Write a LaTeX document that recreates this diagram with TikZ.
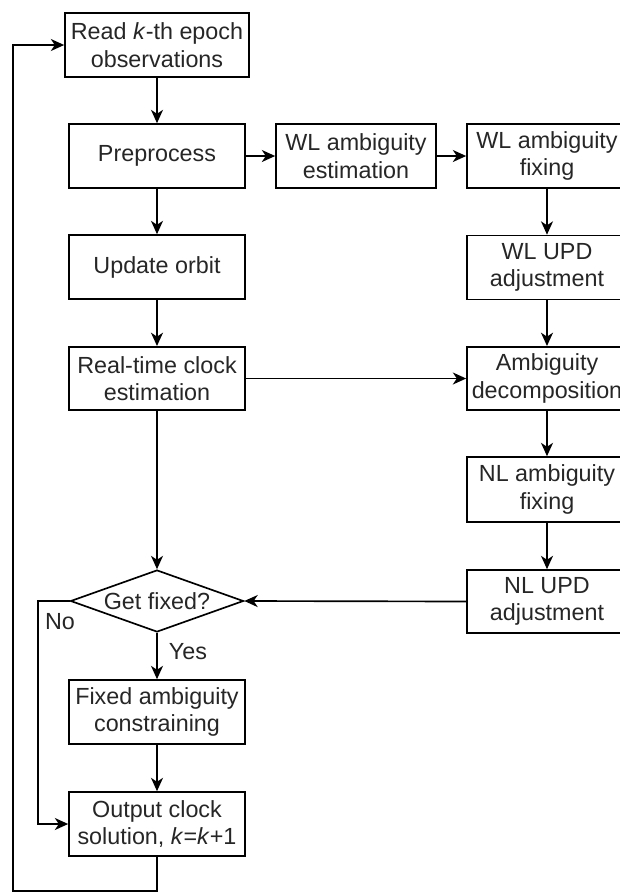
\documentclass[tikz,border=0pt]{standalone}
\usepackage{fontspec}
\setmainfont{Liberation Sans}
\usetikzlibrary{arrows.meta,shapes.geometric}
\begin{document}
\begin{tikzpicture}[x=0.75pt,y=-0.75pt,
  line width=1.25pt,
  every node/.style={font=\fontsize{17.5}{20.5}\selectfont, text=black!85},
  box/.style={draw=black, rectangle, align=center, minimum width=132pt, minimum height=48pt, inner sep=2pt},
  rbox/.style={box, minimum width=120pt},
  dia/.style={draw=black, diamond, aspect=2.79, minimum width=129.75pt, minimum height=46.5pt, inner sep=0pt},
  arr/.style={-{Stealth[length=10pt,width=9pt,inset=3pt]}},
  lbl/.style={inner sep=0pt}]
\useasboundingbox (0,0) rectangle (619,894);
\node[box, minimum width=138pt] (read) at (157,45) {Read \textit{k}-th epoch\\observations};
\node[box] (pre) at (157,156) {Preprocess};
\node[rbox] (wlest) at (356,156) {WL ambiguity\\estimation};
\node[rbox] (wlfix) at (547,156) {WL ambiguity\\fixing};
\node[box] (orbit) at (157,267) {Update orbit};
\node[rbox] (wlupd) at (547,267.5) {WL UPD\\adjustment};
\node[box, minimum height=47.5pt] (rt) at (157,378.5) {Real-time clock\\estimation};
\node[rbox, minimum height=47.5pt] (amb) at (547,378.5) {Ambiguity\\decomposition};
\node[rbox, minimum height=48.75pt] (nlfix) at (547,489.5) {NL ambiguity\\fixing};
\node[dia] (fix) at (157,601) {Get fixed?};
\node[rbox, minimum height=47.25pt] (nlupd) at (547,601.5) {NL UPD\\adjustment};
\node[box] (fixed) at (157,712) {Fixed ambiguity\\constraining};
\node[box] (out) at (157,824) {Output clock\\solution, \textit{k}=\textit{k}+1};
\coordinate (nocorner) at (38,601);
\coordinate (loopbot) at (157,891);
\coordinate (loopleft) at (13,891);
\draw[arr] (read) -- (pre);
\draw[arr] (pre) -- (wlest);
\draw[arr] (wlest) -- (wlfix);
\draw[arr] (pre) -- (orbit);
\draw[arr] (orbit) -- (rt);
\draw[arr] (wlfix) -- (wlupd);
\draw[arr] (wlupd) -- (amb);
\draw[arr] (rt) -- (amb);
\draw[arr] (amb) -- (nlfix);
\draw[arr] (nlfix) -- (nlupd);
\draw[arr] (nlupd.west) -- (fix.east);
\draw[arr] (rt) -- (fix.north);
\draw[arr] (fix.south) -- (fixed);
\draw[arr] (fixed) -- (out);
\draw[arr] (fix.west) -- (nocorner) |- (out.west);
\draw[arr] (out.south) -- (loopbot) -- (loopleft) |- (read.west);
\node[lbl] (no) at (60,622) {No};
\node[lbl] (yes) at (188,652) {Yes};
\end{tikzpicture}
\end{document}
